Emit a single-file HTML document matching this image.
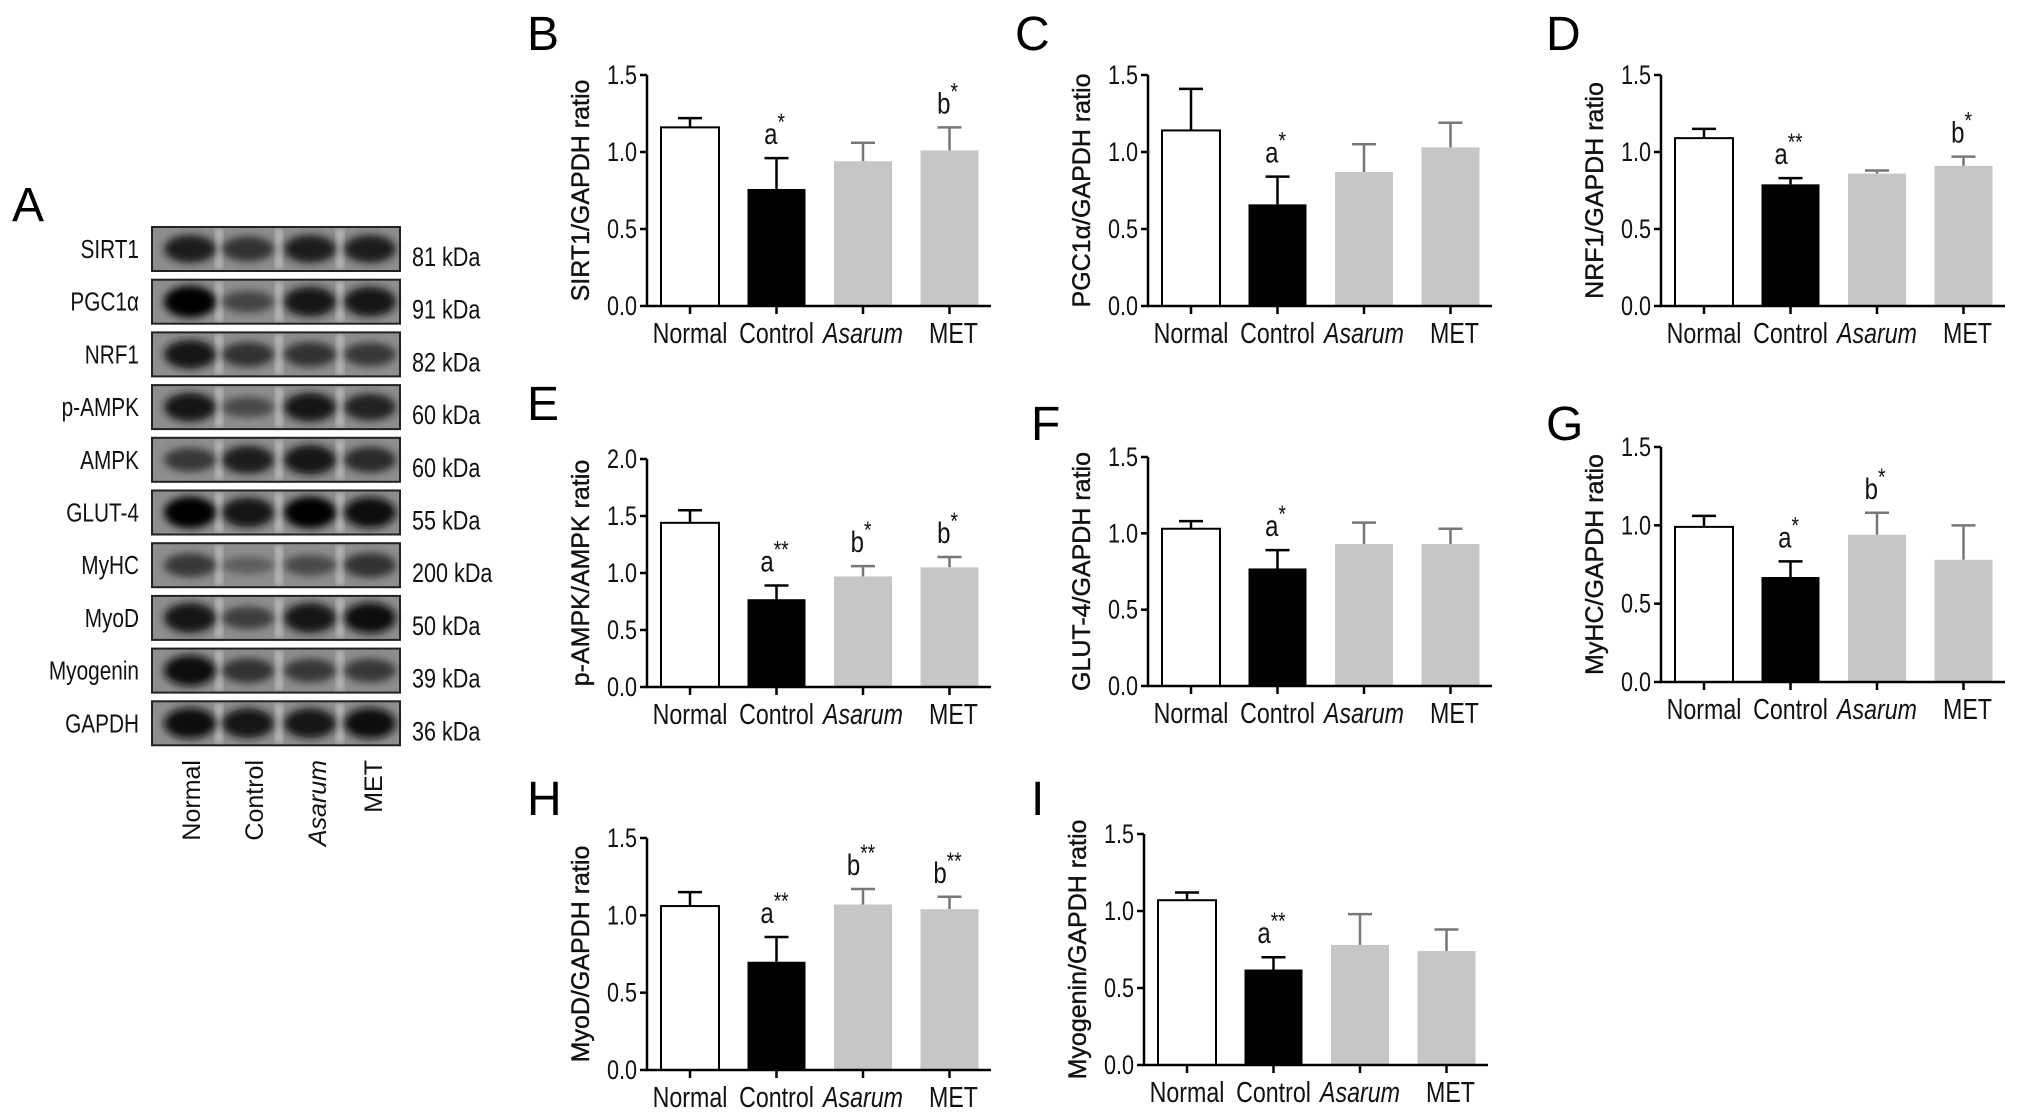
<!DOCTYPE html>
<html><head><meta charset="utf-8"><style>
html,body{margin:0;padding:0;background:#fff;}
svg{display:block;font-family:"Liberation Sans",sans-serif;}
</style></head><body>
<svg id="fig" width="2032" height="1115" viewBox="0 0 2032 1115" xmlns="http://www.w3.org/2000/svg">
<defs>
<filter id="blur" x="-30%" y="-60%" width="160%" height="220%"><feGaussianBlur stdDeviation="4"/></filter>
<filter id="blur2"><feGaussianBlur stdDeviation="3"/></filter>
</defs>
</svg>
<script>
const NS='http://www.w3.org/2000/svg';
const svg=document.getElementById('fig');

const categories=['Normal','Control','Asarum','MET'];
const blotProteins=['SIRT1','PGC1α','NRF1','p-AMPK','AMPK','GLUT-4','MyHC','MyoD','Myogenin','GAPDH'];
const blotKDa=['81 kDa','91 kDa','82 kDa','60 kDa','60 kDa','55 kDa','200 kDa','50 kDa','39 kDa','36 kDa'];
const blotIntensity=[[0.8,0.65,0.8,0.8],[1,0.5,0.9,0.9],[0.85,0.65,0.65,0.6],[0.85,0.45,0.85,0.75],[0.6,0.8,0.9,0.7],[1,0.9,1,0.95],[0.6,0.3,0.45,0.65],[0.9,0.55,0.9,0.95],[0.95,0.65,0.6,0.6],[0.95,0.9,0.9,0.95]];

const bValues=[1.16,0.76,0.94,1.01], bErrors=[1.22,0.96,1.06,1.16], bMarks=['','a*','','b*'];
const cValues=[1.14,0.66,0.87,1.03], cErrors=[1.41,0.84,1.05,1.19], cMarks=['','a*','',''];
const dValues=[1.09,0.79,0.86,0.91], dErrors=[1.15,0.83,0.88,0.97], dMarks=['','a**','','b*'];
const eValues=[1.44,0.77,0.97,1.05], eErrors=[1.55,0.89,1.06,1.14], eMarks=['','a**','b*','b*'];
const fValues=[1.03,0.77,0.93,0.93], fErrors=[1.08,0.89,1.07,1.03], fMarks=['','a*','',''];
const gValues=[0.99,0.67,0.94,0.78], gErrors=[1.06,0.77,1.08,1.00], gMarks=['','a*','b*',''];
const hValues=[1.06,0.70,1.07,1.04], hErrors=[1.15,0.86,1.17,1.12], hMarks=['','a**','b**','b**'];
const iValues=[1.07,0.62,0.78,0.74], iErrors=[1.12,0.70,0.98,0.88], iMarks=['','a**','',''];
const ticks15=[0,0.5,1.0,1.5];
const ticks20=[0,0.5,1.0,1.5,2.0];

function el(tag,attrs,parent){const e=document.createElementNS(NS,tag);for(const k in attrs)e.setAttribute(k,attrs[k]);(parent||svg).appendChild(e);return e;}
function txt(s,attrs,parent){const e=el('text',attrs,parent);e.textContent=s;return e;}
// condensed text: positioned via transform with horizontal squeeze
function ctxt(s,x,y,size,anchor,parent,extra){
  const a=Object.assign({x:0,y:0,'font-size':size,'text-anchor':anchor,fill:'#111',transform:`translate(${x},${y}) scale(0.8,1)`},extra||{});
  return txt(s,a,parent);
}

// Panel letters
const letters=[['A',12,221],['B',527,50],['C',1015,50],['D',1546,50],['E',527,420],['F',1031,440],['G',1546,440],['H',527,815],['I',1031,815]];
letters.forEach(l=>{const t=txt(l[0],{x:l[1],y:l[2],'font-size':48,fill:'#000'});

});

// Western blot
const blot=el('g',{});


const laneX=[190,248,310,370];
blotProteins.forEach((p,r)=>{
  const y=227+r*52.7;
  const g=el('g',{},blot);
  
  
  el('rect',{x:152,y:y,width:248,height:44,fill:'#8e8e8e'},g);
  [219,279,340].forEach(gx=>el('rect',{x:gx-4,y:y+2,width:8,height:40,fill:'#b8b8b8',filter:'url(#blur2)'},g));
  blotIntensity[r].forEach((v,i)=>{
    const c=Math.round(130-125*v);
    el('ellipse',{cx:laneX[i],cy:y+22,rx:26,ry:6+10*v,fill:`rgb(${c},${c},${c})`,filter:'url(#blur)'},g);
  });
  el('rect',{x:152,y:y,width:248,height:44,fill:'none',stroke:'#222','stroke-width':2},g);
  const lt=ctxt(p,139,y+31,26,'end',g);
  
  
  const kt=ctxt(blotKDa[r],412,y+39,27,'start',g);
  
  
});
categories.forEach((c,i)=>{
  const t=txt(c,{x:0,y:0,'font-size':25,'font-style':i==2?'italic':'normal',fill:'#111','text-anchor':'end',transform:`translate(${[200,263,326,382][i]},760) rotate(-90)`},blot);
  
  
});

// Bar charts
function chart(name,x0,y0,h,max,ticks,values,errors,marks,title){
  const g=el('g',{});
  
  
  const ys=v=>y0-v/max*h;
  const pitch=86.5,bw=58;
  const bx=i=>x0+14+pitch*i;
  values.forEach((v,i)=>{
    const fill=i==0?'#fff':(i==1?'#000':'#c6c6c6');
    const ec=i>=2?'#777':'#000';
    const top=ys(v), et=ys(errors[i]), cx=bx(i)+bw/2;
    const ebar=el('path',{d:`M${cx},${top} V${et} M${cx-12},${et} H${cx+12}`,stroke:ec,'stroke-width':2.5,fill:'none'},g);
    
    
    const r=el('rect',{x:bx(i),y:top,width:bw,height:y0-top,fill:fill,stroke:i==0?'#000':'none','stroke-width':2},g);
    
    
    if(marks[i]){
      const letter=marks[i][0], stars=marks[i].slice(1);
      const t=ctxt(letter,cx-2,et-14,30,'middle',g);
      const s=el('tspan',{dy:-14,'font-size':24},t);s.textContent=stars;
      
      
    }
  });
  const ya=el('path',{d:`M${x0},${ys(max)} V${y0} H${x0+344}`,stroke:'#000','stroke-width':2.5,fill:'none'},g);
  
  
  ticks.forEach(t=>{
    el('line',{x1:x0-7,x2:x0,y1:ys(t),y2:ys(t),stroke:'#000','stroke-width':2.5},g);
    const tl=ctxt(t.toFixed(1),x0-10,ys(t)+9,27,'end',g);
    
    
  });
  categories.forEach((c,i)=>{
    const cx=bx(i)+bw/2;
    el('line',{x1:cx,x2:cx,y1:y0,y2:y0+8,stroke:'#000','stroke-width':2.5},g);
    const cl=ctxt(c,cx+(i==3?4:0),y0+37,29,'middle',g,{'font-style':i==2?'italic':'normal'});
    
    
  });
  const yt=txt(title,{x:0,y:0,'font-size':25,'text-anchor':'middle',fill:'#111',stroke:'#111','stroke-width':0.4,transform:`translate(${x0-58},${y0-h/2}) rotate(-90)`},g);
  
  
}
chart('b',647,306,231,1.5,ticks15,bValues,bErrors,bMarks,'SIRT1/GAPDH ratio');
chart('c',1148,306,231,1.5,ticks15,cValues,cErrors,cMarks,'PGC1α/GAPDH ratio');
chart('d',1661,306,231,1.5,ticks15,dValues,dErrors,dMarks,'NRF1/GAPDH ratio');
chart('e',647,687,228,2.0,ticks20,eValues,eErrors,eMarks,'p-AMPK/AMPK ratio');
chart('f',1148,686,229,1.5,ticks15,fValues,fErrors,fMarks,'GLUT-4/GAPDH ratio');
chart('g',1661,682,235,1.5,ticks15,gValues,gErrors,gMarks,'MyHC/GAPDH ratio');
chart('h',647,1070,232,1.5,ticks15,hValues,hErrors,hMarks,'MyoD/GAPDH ratio');
chart('i',1144,1065,231,1.5,ticks15,iValues,iErrors,iMarks,'Myogenin/GAPDH ratio');
</script>
</body></html>
